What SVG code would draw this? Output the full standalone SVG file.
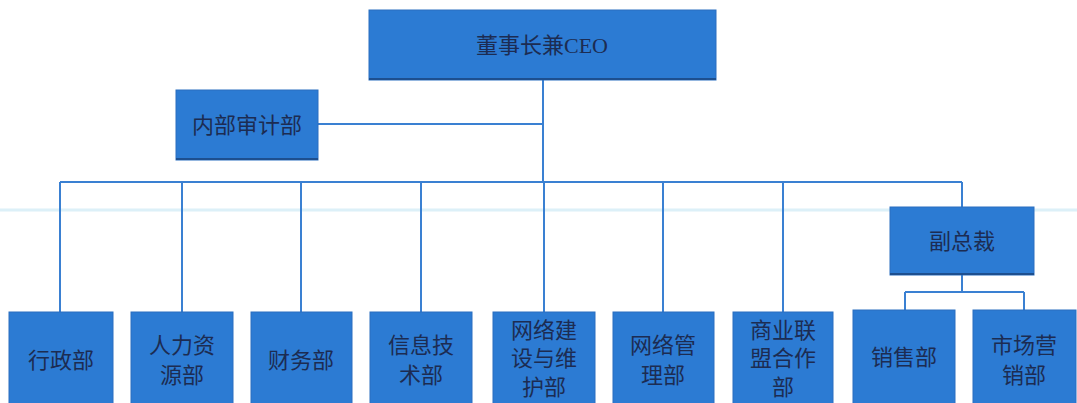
<svg xmlns="http://www.w3.org/2000/svg" width="1077" height="403" viewBox="0 0 1077 403">
<style>
.box{fill:#2c7bd3;stroke:#2a6fc0;stroke-width:1}
.shadow{fill:#1d4f8f}
.t{font-family:"Liberation Serif","Noto Sans CJK SC",serif;font-size:22px;fill:#1c2c52;text-anchor:middle;dominant-baseline:central}
.c{stroke:#3a80d2;stroke-width:2;fill:none}
</style>
<rect width="1077" height="403" fill="#ffffff"/>
<line x1="0" y1="210" x2="1077" y2="210" stroke="#dcf0f8" stroke-width="3"/>
<g id="connectors">
<path class="c" d="M543 80 V182 M318 124 H543 M60 182 H962 M60 182 V312 M182 182 V312 M301 182 V312 M421 182 V312 M544 182 V312 M663 182 V312 M783 182 V312 M962 182 V207 M962 275 V292 M905 292 H1024 M905 292 V310 M1024 292 V310"/>
</g>
<g id="ceo"><rect class="box" x="369" y="10" width="347" height="70"/><rect class="shadow" x="369" y="78" width="347" height="2"/><text class="t" x="542" y="45">董事长兼CEO</text></g>
<g id="audit"><rect class="box" x="176" y="90" width="142" height="70"/><rect class="shadow" x="176" y="158" width="142" height="2"/><text class="t" x="247" y="125">内部审计部</text></g>
<g id="vp"><rect class="box" x="890" y="207" width="144" height="68"/><rect class="shadow" x="890" y="273" width="144" height="2"/><text class="t" x="962" y="241">副总裁</text></g>
<g id="admin"><rect class="box" x="9" y="312" width="104" height="95"/><text class="t" x="61" y="360">行政部</text></g>
<g id="hr"><rect class="box" x="131" y="312" width="102" height="95"/><text class="t" x="182" y="345">人力资</text><text class="t" x="182" y="375">源部</text></g>
<g id="finance"><rect class="box" x="251" y="312" width="101" height="95"/><text class="t" x="301" y="360">财务部</text></g>
<g id="it"><rect class="box" x="370" y="312" width="102" height="95"/><text class="t" x="421" y="345">信息技</text><text class="t" x="421" y="375">术部</text></g>
<g id="netbuild"><rect class="box" x="493" y="312" width="102" height="95"/><text class="t" x="544" y="330">网络建</text><text class="t" x="544" y="358">设与维</text><text class="t" x="544" y="387">护部</text></g>
<g id="netmgmt"><rect class="box" x="613" y="312" width="101" height="95"/><text class="t" x="663" y="345">网络管</text><text class="t" x="663" y="375">理部</text></g>
<g id="alliance"><rect class="box" x="733" y="312" width="100" height="95"/><text class="t" x="783" y="330">商业联</text><text class="t" x="783" y="358">盟合作</text><text class="t" x="783" y="387">部</text></g>
<g id="sales"><rect class="box" x="853" y="310" width="102" height="97"/><text class="t" x="904" y="357">销售部</text></g>
<g id="marketing"><rect class="box" x="973" y="310" width="103" height="97"/><text class="t" x="1024" y="345">市场营</text><text class="t" x="1024" y="375">销部</text></g>
</svg>
